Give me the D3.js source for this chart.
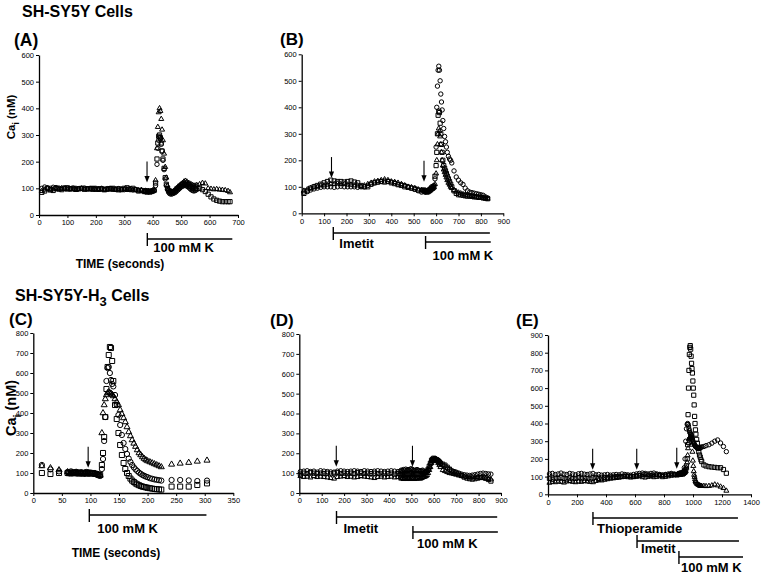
<!DOCTYPE html>
<html><head><meta charset="utf-8">
<script src="https://cdn.jsdelivr.net/npm/d3@7"></script>
<style>body{margin:0;background:#fff}svg{display:block}text{font-family:"Liberation Sans",Arial,Helvetica,sans-serif}</style>
</head><body><svg id="c" width="761" height="575"></svg>
<script>
// ---------- DATA ----------
// Panel A (SH-SY5Y, 100 mM K)
const tA = [10,20,30,40,50,60,70,80,90,100,110,120,130,140,150,160,170,180,190,200,210,220,230,240,250,260,270,280,290,300,310,320,330,340,350,360,370,
375,380,385,390,395,400,405,410,415,418,421,424,427,430,433,436,440,444,448,452,456,460,465,470,475,480,485,490,495,500,505,510,515,520,525,530,535,540,545,550,555,
565,575,585,595,605,615,625,635,645,655,665,672];
const triA = [90,95,100,92,96,98,95,100,97,95,98,96,94,97,99,95,96,98,94,95,97,96,93,95,98,94,96,92,95,97,94,96,93,95,92,94,90,
90,88,90,88,90,92,95,130,250,330,385,400,390,360,320,280,230,180,140,110,95,90,88,85,90,95,100,105,110,115,120,125,128,125,120,118,115,112,110,110,112,
115,120,118,100,98,96,97,95,94,93,90,85];
const sqA = [85,90,100,95,92,100,98,95,100,102,98,100,96,98,100,97,99,98,100,97,96,98,95,97,99,100,96,98,95,100,102,98,100,95,90,92,88,
88,86,88,86,88,90,92,120,210,270,295,300,290,270,240,210,175,140,115,100,92,88,85,85,88,92,98,102,108,112,115,118,120,115,112,108,105,100,100,100,100,
100,95,88,78,68,60,55,52,50,50,50,50];
const ciA = [100,105,102,100,104,103,101,100,102,100,98,101,100,99,100,101,98,100,99,100,98,100,97,99,100,98,96,99,97,95,96,95,94,95,93,92,90,
92,90,90,88,90,90,92,110,190,250,280,290,285,265,240,205,170,135,110,95,85,80,78,80,82,85,90,95,100,105,108,110,112,108,105,100,95,92,90,92,95,
null,null,null,null,null,null,null,null,null,null,null,null];

// Panel B (SH-SY5Y, Imetit then 100 mM K)
const tB = [10,25,40,55,70,85,100,115,130,145,160,175,190,205,220,235,250,265,280,295,310,325,340,355,370,385,400,415,430,445,460,475,490,505,520,535,
545,550,555,560,565,570,575,580,585,590,595,600,603,606,609,612,615,618,621,624,627,630,634,638,642,646,650,655,660,665,670,680,690,700,710,720,730,740,750,760,770,780,790,800,810,820,830];
const ciB = [80,82,88,92,95,98,100,100,100,98,100,102,100,100,100,100,98,100,100,105,110,115,118,120,122,120,118,115,110,108,105,100,95,90,85,80,
85,80,82,85,88,90,95,100,100,105,130,250,400,480,540,555,540,500,450,420,390,350,320,290,270,250,230,215,205,200,190,160,137,125,115,109,95,85,80,78,76,74,72,70,68,62,58];
const sqB = [75,85,95,100,105,110,115,120,125,122,120,120,118,120,122,118,115,105,100,100,110,115,118,120,118,120,115,112,108,105,100,98,95,92,88,85,
88,85,82,80,82,85,88,92,95,100,140,180,230,300,370,385,380,340,300,260,230,200,180,170,160,150,140,130,120,110,100,85,75,70,70,68,66,65,65,64,62,62,60,60,58,57,55];
const triB = [85,90,95,100,100,105,105,108,110,110,112,110,110,108,108,105,105,100,105,110,115,120,122,125,128,125,120,118,115,110,105,100,98,95,90,88,
85,82,80,82,85,88,90,92,95,98,110,150,200,260,300,320,310,290,260,230,200,180,165,155,145,135,125,115,108,100,95,88,82,78,75,72,70,68,66,65,64,63,62,60,58,56,55];

// Panel C (SH-SY5Y-H3, 100 mM K)
const tC = [15,30,45,60,63,66,69,72,75,78,81,84,87,90,93,96,99,102,105,108,111,114,117,
120,122,124,126,128,130,132,134,136,138,140,
143,146,149,152,155,158,161,164,167,170,173,176,179,182,185,188,191,194,197,200,
204,208,212,216,220,224,242,257,272,287,304];
const sqC = [100,95,100,100,102,98,100,104,100,98,102,100,97,100,103,99,101,98,100,97,95,92,90,
140,200,280,380,520,630,690,730,725,660,560,
440,370,300,240,190,150,120,100,85,72,62,55,48,43,39,35,32,30,28,26,
24,22,20,19,18,17,32,32,32,40,48];
const ciC = [140,118,108,105,100,108,102,100,106,103,100,104,101,99,105,100,102,100,98,96,92,88,85,
120,170,260,380,560,625,630,600,565,545,533,
490,440,390,340,290,250,220,195,172,155,140,128,118,110,102,96,90,86,82,79,
74,71,68,66,64,62,65,65,63,60,62];
const triC = [135,125,115,105,95,100,97,95,99,96,94,98,95,97,93,96,94,95,97,94,92,90,88,
300,400,440,470,490,500,505,500,498,492,485,
470,455,440,415,395,375,355,330,305,285,265,248,232,215,200,190,180,172,165,160,
155,150,145,140,135,130,143,148,152,158,163];

// Panel D (SH-SY5Y-H3, Imetit then 100 mM K)
const tD = [5,20,35,50,65,80,95,110,125,140,155,170,185,200,215,230,245,260,275,290,305,320,335,350,365,380,395,410,425,440,
450,455,460,465,470,475,480,485,490,495,500,505,510,515,520,525,530,535,540,545,550,555,560,565,570,575,580,
585,590,595,600,605,610,615,620,625,630,640,650,660,670,680,690,700,
712,724,736,748,760,772,784,796,808,820,832,844,855];
const ciD = [108,110,112,108,110,105,112,110,108,106,105,110,112,110,108,110,112,110,108,112,110,108,110,112,110,108,110,112,110,108,
110,115,112,118,115,120,112,118,115,120,122,118,115,112,115,118,115,112,110,112,115,110,105,108,110,115,125,
145,160,168,170,172,170,168,165,160,150,140,135,125,118,112,108,105,
100,95,92,90,88,90,92,95,98,100,98,96,95];
const triD = [85,80,82,78,85,80,82,80,78,75,72,80,82,85,80,82,78,80,85,82,80,78,75,80,82,78,80,82,78,80,
78,72,75,70,72,75,70,72,74,70,72,75,72,70,74,72,75,73,72,75,78,80,82,85,90,100,115,
130,150,160,165,168,165,160,150,140,130,115,110,105,100,98,95,92,
88,85,82,80,78,78,80,78,76,75,72,70,68];
const sqD = [95,100,98,102,100,97,100,98,100,96,100,102,98,100,97,100,98,102,100,98,100,97,100,98,96,100,98,100,95,98,
95,90,100,95,92,98,95,90,100,95,98,92,95,100,95,92,98,95,92,95,98,95,100,105,110,120,135,
150,165,170,175,172,168,165,160,155,150,145,140,130,120,110,105,100,
95,88,80,75,72,70,72,75,78,80,75,68,60];

// Panel E (SH-SY5Y-H3, Thioperamide, Imetit, 100 mM K)
const tE = [10,30,50,70,90,110,130,150,170,190,210,230,250,270,290,310,330,350,370,390,410,430,450,470,490,510,530,550,570,590,610,630,650,670,690,710,730,750,770,790,810,830,850,870,890,
900,905,910,915,920,925,930,935,940,945,950,955,960,
963,966,969,972,975,978,981,984,987,990,993,996,999,1002,1005,1008,1011,1014,1017,1020,1025,1030,1035,1040,1045,1050,1055,1060,
1075,1090,1110,1130,1150,1170,1190,1210,1230];
const ciE = [115,118,112,115,120,114,112,118,115,110,116,118,114,112,115,118,110,112,108,110,112,108,110,112,110,115,112,110,108,112,115,118,120,118,115,118,120,115,112,110,112,115,118,115,112,
115,118,115,120,118,122,125,130,150,200,300,370,395,
400,395,385,370,360,350,345,340,336,330,320,310,300,295,290,285,280,275,270,268,265,262,260,258,260,262,265,268,
270,275,280,289,300,307,290,270,241];
const triE = [65,70,68,72,70,66,72,75,70,68,72,70,75,72,70,68,75,80,78,82,85,88,90,92,95,98,100,102,100,98,102,105,108,110,108,105,108,110,108,105,108,110,112,110,108,
110,112,110,112,115,112,115,118,120,125,130,150,180,
220,260,290,310,318,322,326,326,320,310,280,240,190,160,130,110,98,85,75,68,62,58,55,52,50,48,47,47,
47,46,47,50,55,50,43,35,20];
const sqE = [90,85,92,88,95,90,86,92,88,90,94,88,92,90,86,92,95,90,92,95,94,98,96,100,98,100,102,100,98,100,102,105,100,98,102,104,100,102,105,100,102,105,108,110,110,
112,115,118,115,120,118,115,120,125,130,140,160,200,
280,450,600,700,790,830,840,820,780,740,710,685,640,600,560,505,440,400,364,340,310,289,260,240,222,210,195,185,
166,160,156,154,152,150,150,140,119];

// ticks
const xTicksA = [0,100,200,300,400,500,600,700];
const xTicksB = [0,100,200,300,400,500,600,700,800,900];
const xTicksC = [0,50,100,150,200,250,300,350];
const xTicksE = [0,200,400,600,800,1000,1200,1400];
const yTicks600 = [0,100,200,300,400,500,600];
const yTicks800 = [0,100,200,300,400,500,600,700,800];
const yTicks900 = [0,100,200,300,400,500,600,700,800,900];

// arrows (time, value at tip) and treatment bars (start/end times)
const arrowsA = [{t:380, v:122}];
const arrowsB = [{t:133, v:133},{t:546, v:119}];
const arrowsC = [{t:96, v:126}];
const arrowsD = [{t:165, v:132},{t:505, v:132}];
const arrowsE = [{t:308, v:138},{t:612, v:138},{t:888, v:145}];
const barsA = [{label:"100 mM K", start:381, end:680}];
const barsB = [{label:"Imetit", start:141, end:840},{label:"100 mM K", start:553, end:844}];
const barsC = [{label:"100 mM K", start:98, end:303}];
const barsD = [{label:"Imetit", start:166, end:883},{label:"100 mM K", start:507, end:886}];
const barsE = [{label:"Thioperamide", start:310, end:1310},{label:"Imetit", start:614, end:1317},{label:"100 mM K", start:903, end:1345}];

// ---------- DRAW ----------
const svg = d3.select('#c');
const FONT = '"Liberation Sans",Arial,Helvetica,sans-serif';

function shapePath(shape, k){
  if(shape==='circle'){const r=2.2*k;return `M${r},0A${r},${r} 0 1,1 ${-r},0A${r},${r} 0 1,1 ${r},0Z`;}
  if(shape==='square'){const s=4.2*k;return `M${-s/2},${-s/2}h${s}v${s}h${-s}Z`;}
  const s=5*k, h=s*0.866;return `M0,${-h*2/3}L${s/2},${h/3}L${-s/2},${h/3}Z`;
}

function drawPanel(c){
  const x = d3.scaleLinear().domain(c.xDom).range(c.xR);
  const y = d3.scaleLinear().domain(c.yDom).range(c.yR);
  const g = svg.append('g');
  const xa = g.append('g').attr('transform',`translate(0,${c.yR[0]})`)
    .call(d3.axisBottom(x).tickValues(c.xTicks).tickFormat(d3.format('d')).tickSize(3).tickSizeOuter(0).tickPadding(2));
  const ya = g.append('g').attr('transform',`translate(${c.xR[0]},0)`)
    .call(d3.axisLeft(y).tickValues(c.yTicks).tickFormat(d3.format('d')).tickSize(3).tickSizeOuter(0).tickPadding(2));
  [xa,ya].forEach(a=>{
    a.attr('font-family',FONT).attr('font-size',7.5);
    a.select('.domain').attr('stroke','#000').attr('stroke-width',1.3);
    a.selectAll('.tick line').attr('stroke','#000').attr('stroke-width',1);
    a.selectAll('.tick text').attr('fill','#000');
  });
  c.series.forEach(s=>{
    const pts = c.t.map((t,i)=>({t:t, v:s.values[i]})).filter(d=>d.v!=null);
    g.append('g').selectAll('path').data(pts).enter().append('path')
      .attr('d', shapePath(s.shape, c.ms))
      .attr('transform', d=>`translate(${x(d.t)},${y(d.v)})`)
      .attr('fill','none').attr('stroke','#000').attr('stroke-width',1);
  });
  c.arrows.forEach(a=>{
    const ax=x(a.t), ay=y(a.v);
    g.append('line').attr('x1',ax).attr('x2',ax).attr('y1',ay-21).attr('y2',ay-5).attr('stroke','#000').attr('stroke-width',1.1);
    g.append('path').attr('d',`M${ax-2.6},${ay-6.5}L${ax+2.6},${ay-6.5}L${ax},${ay}Z`).attr('fill','#000');
  });
  c.bars.forEach((b,i)=>{
    const by=c.barY[i], bx=x(b.start);
    g.append('line').attr('x1',bx).attr('x2',x(b.end)).attr('y1',by).attr('y2',by).attr('stroke','#000').attr('stroke-width',1.4);
    g.append('line').attr('x1',bx).attr('x2',bx).attr('y1',by-6).attr('y2',by+7).attr('stroke','#000').attr('stroke-width',1.4);
    g.append('text').attr('x',bx+c.textDx[i]).attr('y',by+c.textDy[i]).attr('font-size',13).attr('font-weight','bold').text(b.label);
  });
}

drawPanel({xDom:[0,700], xR:[39,238], yDom:[0,600], yR:[215,55], xTicks:xTicksA, yTicks:yTicks600, t:tA, ms:1,
  series:[{shape:'triangle',values:triA},{shape:'square',values:sqA},{shape:'circle',values:ciA}],
  arrows:arrowsA, bars:barsA, barY:[239], textDx:[6], textDy:[13]});
drawPanel({xDom:[0,900], xR:[301.7,503.3], yDom:[0,600], yR:[213.3,54.3], xTicks:xTicksB, yTicks:yTicks600, t:tB, ms:1,
  series:[{shape:'triangle',values:triB},{shape:'square',values:sqB},{shape:'circle',values:ciB}],
  arrows:arrowsB, bars:barsB, barY:[233,242], textDx:[6,7], textDy:[15,18]});
drawPanel({xDom:[0,350], xR:[33.3,233.3], yDom:[0,800], yR:[493,333], xTicks:xTicksC, yTicks:yTicks800, t:tC, ms:1.2,
  series:[{shape:'triangle',values:triC},{shape:'square',values:sqC},{shape:'circle',values:ciC}],
  arrows:arrowsC, bars:barsC, barY:[515], textDx:[8], textDy:[18]});
drawPanel({xDom:[0,900], xR:[299.3,501], yDom:[0,800], yR:[493,334], xTicks:xTicksB, yTicks:yTicks800, t:tD, ms:1,
  series:[{shape:'triangle',values:triD},{shape:'square',values:sqD},{shape:'circle',values:ciD}],
  arrows:arrowsD, bars:barsD, barY:[517,532], textDx:[7,4], textDy:[16,16]});
drawPanel({xDom:[0,1400], xR:[548,751], yDom:[0,900], yR:[494.3,335], xTicks:xTicksE, yTicks:yTicks900, t:tE, ms:1,
  series:[{shape:'triangle',values:triE},{shape:'square',values:sqE},{shape:'circle',values:ciE}],
  arrows:arrowsE, bars:barsE, barY:[518,541,557], textDx:[4,4,2], textDy:[15,12,15]});

// ---------- TEXT ----------
function bold(x,y,size,txt){return svg.append('text').attr('x',x).attr('y',y).attr('font-size',size).attr('font-weight','bold').text(txt);}
bold(22,17,16,'SH-SY5Y Cells');
const t2 = svg.append('text').attr('x',15).attr('y',301).attr('font-size',16).attr('font-weight','bold');
t2.append('tspan').text('SH-SY5Y-H');
t2.append('tspan').attr('dy',5).attr('font-size',13).text('3');
t2.append('tspan').attr('dy',-5).text(' Cells');
bold(14,46,17.5,'(A)');
bold(280,45,17,'(B)');
bold(9,325,17,'(C)');
bold(270,326,17,'(D)');
bold(516,326,17,'(E)');
bold(120,268,12,'TIME (seconds)').attr('text-anchor','middle');
bold(116,557,12,'TIME (seconds)').attr('text-anchor','middle');
function ylab(x,y,size){
  const t = svg.append('text').attr('transform',`translate(${x},${y}) rotate(-90)`).attr('text-anchor','middle').attr('font-size',size).attr('font-weight','bold');
  t.append('tspan').text('Ca');
  t.append('tspan').attr('dy',size*0.35).attr('font-size',size*0.75).text('i');
  t.append('tspan').attr('dy',-size*0.35).text(' (nM)');
}
ylab(15,117,11.5);
ylab(16,408,14.5);
</script>
</body></html>
